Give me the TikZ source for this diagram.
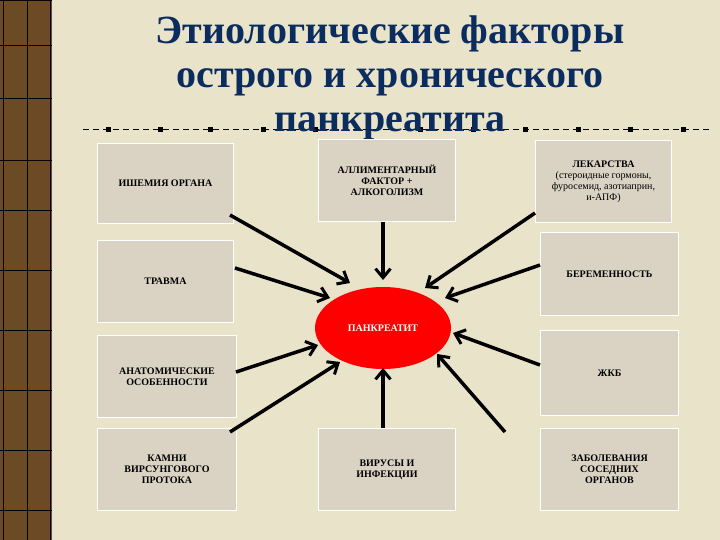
\documentclass[tikz,border=0pt]{standalone}
\usepackage{fontspec}
\setmainfont{Liberation Serif}
\usetikzlibrary{arrows.meta,shapes.geometric}
\definecolor{bg}{HTML}{E9E3C9}
\definecolor{boxc}{HTML}{DAD3C4}
\definecolor{navy}{HTML}{0B2C5E}
\definecolor{strip}{HTML}{6B4A25}
\begin{document}
\begin{tikzpicture}[x=1pt,y=-1pt,
  fbox/.style={draw=white,line width=1pt,fill=boxc,font=\bfseries\fontsize{10}{11}\selectfont,align=center,inner sep=2pt,anchor=north west},
  arr/.style={line width=3.5pt,-{Straight Barb[length=9pt,width=15pt,line width=3pt]}}]
\useasboundingbox (0,0) rectangle (720,540);
\fill[bg] (0,0) rectangle (720,540);
\fill[strip] (0,0) rectangle (52,540);
\foreach \y in {0,45,98,160,210,270,330,390,450,510} \draw[black,line width=0.8pt] (0,\y) -- (52,\y);
\draw[black,line width=0.8pt] (3,0) -- (3,540) (27,0) -- (27,540) (50,0) -- (50,540);
\draw[black,line width=1pt,dash pattern=on 6pt off 4pt] (83,130) -- (710,130);
\foreach \x in {108,160,210,263,315,368,420,473,525,578,630,683} \fill[black] (\x-2.5,127.5) rectangle (\x+2.5,132.5);
\node[text=navy,font=\bfseries\fontsize{40}{44}\selectfont,align=center] (title) at (390,78) {Этиологические факторы\\острого и хронического\\панкреатита};
\node[fbox,minimum width=136pt,minimum height=80pt] (b1) at (97,143) {ИШЕМИЯ ОРГАНА};
\node[fbox,minimum width=137pt,minimum height=82pt] (b2) at (318,139) {АЛЛИМЕНТАРНЫЙ\\ФАКТОР +\\АЛКОГОЛИЗМ};
\node[fbox,minimum width=136pt,minimum height=82pt] (b3) at (535,140) {ЛЕКАРСТВА\\{\mdseries(стероидные гормоны,}\\{\mdseries фуросемид, азотиаприн,}\\{\mdseries и-АПФ)}};
\node[fbox,minimum width=136pt,minimum height=82pt] (b4) at (97,240) {ТРАВМА};
\node[fbox,minimum width=138pt,minimum height=83pt] (b5) at (540,232) {БЕРЕМЕННОСТЬ};
\node[fbox,minimum width=139pt,minimum height=82pt] (b6) at (97,335) {АНАТОМИЧЕСКИЕ\\ОСОБЕННОСТИ};
\node[fbox,minimum width=138pt,minimum height=85pt] (b7) at (540,330) {ЖКБ};
\node[fbox,minimum width=139pt,minimum height=82pt] (b8) at (97,428) {КАМНИ\\ВИРСУНГОВОГО\\ПРОТОКА};
\node[fbox,minimum width=137pt,minimum height=82pt] (b9) at (318,428) {ВИРУСЫ И\\ИНФЕКЦИИ};
\node[fbox,minimum width=138pt,minimum height=82pt] (b10) at (540,428) {ЗАБОЛЕВАНИЯ\\СОСЕДНИХ\\ОРГАНОВ};
\node[ellipse,fill=red,minimum width=136pt,minimum height=82pt,text=white,font=\bfseries\fontsize{10}{11}\selectfont] (p) at (383,328) {ПАНКРЕАТИТ};
\coordinate (a1) at (230,215); \coordinate (e1) at (350,283);
\coordinate (a2) at (383,222); \coordinate (e2) at (383,280);
\coordinate (a3) at (535,213); \coordinate (e3) at (425,288);
\coordinate (a4) at (235,268); \coordinate (e4) at (330,298);
\coordinate (a5) at (540,265); \coordinate (e5) at (445,298);
\coordinate (a6) at (236,372); \coordinate (e6) at (318,345);
\coordinate (a7) at (540,365); \coordinate (e7) at (453,333);
\coordinate (a8) at (230,432); \coordinate (e8) at (340,362);
\coordinate (a9) at (383,428); \coordinate (e9) at (383,368);
\coordinate (a10) at (505,432); \coordinate (e10) at (437,354);
\foreach \i in {1,...,10} \draw[arr] (a\i) -- (e\i);
\end{tikzpicture}
\end{document}
